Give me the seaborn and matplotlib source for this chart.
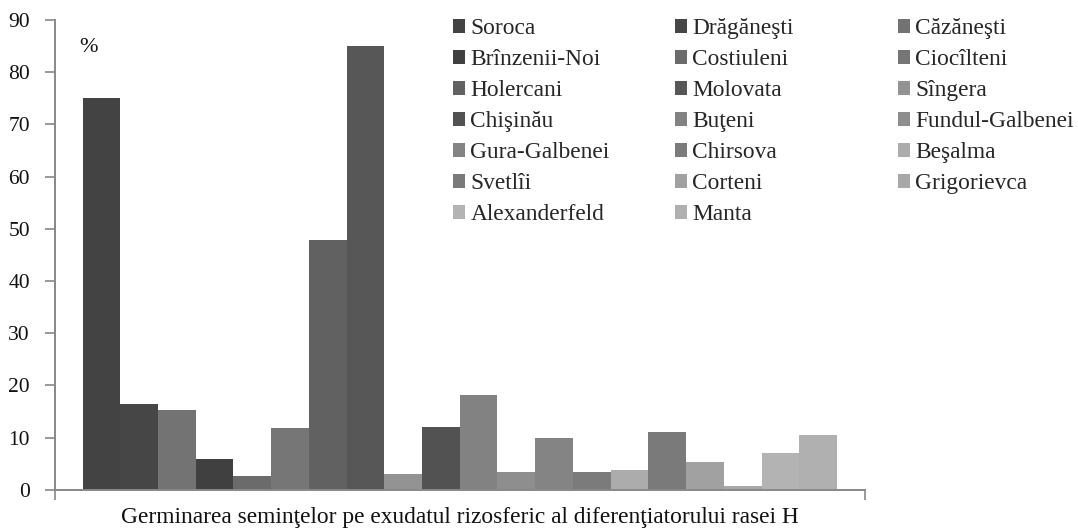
"""
plot.py
Germinarea semintelor pe exudatul rizosferic - bar chart recreated with seaborn.
"""

import pandas as pd
import seaborn as sns
import matplotlib.pyplot as plt

# Data
sites = [
    "Soroca", "Drăgăneşti", "Căzăneşti", "Brînzenii-Noi", "Costiuleni",
    "Ciocîlteni", "Holercani", "Molovata", "Sîngera", "Chişinău",
    "Buţeni", "Fundul-Galbenei", "Gura-Galbenei", "Chirsova", "Beşalma",
    "Svetlîi", "Corteni", "Grigorievca", "Alexanderfeld", "Manta",
]
values = [75.0, 16.4, 15.3, 6.0, 2.7, 11.9, 47.8, 85.0, 3.1, 12.0,
          18.2, 3.5, 10.0, 3.4, 3.8, 11.0, 5.4, 0.8, 7.0, 10.6]
colors = ["#434343", "#464646", "#737373", "#404040", "#6b6b6b",
          "#767676", "#616161", "#575757", "#939393", "#525252",
          "#828282", "#8e8e8e", "#848484", "#7b7b7b", "#acacac",
          "#7a7a7a", "#a1a1a1", "#a8a8a8", "#b3b3b3", "#b0b0b0"]
group = "Germinarea seminţelor pe exudatul rizosferic al diferenţiatorului rasei H"
y_ticks = [0, 10, 20, 30, 40, 50, 60, 70, 80, 90]


def main():
    sns.set_style("white")
    plt.rcParams["font.family"] = ["Liberation Serif", "DejaVu Serif"]

    df = pd.DataFrame({"group": [group] * len(sites), "site": sites, "value": values})

    fig = plt.figure(figsize=(10.78, 5.29), dpi=100)
    ax = fig.add_axes([0.051, 0.074, 0.751, 0.888])

    sns.barplot(data=df, x="group", y="value", hue="site", hue_order=sites,
                palette=colors, saturation=1, width=0.932, ax=ax, linewidth=0)

    ax.set_xlim(-0.5, 0.5)
    ax.set_ylim(0, 90)
    ax.set_yticks(y_ticks)
    ax.set_xticks([-0.5, 0.5])
    ax.set_xticklabels(["", ""])
    ax.tick_params(axis="y", labelsize=15.5, length=7, width=1.2, color="#888888",
                   left=True, pad=11, labelcolor="#111111")
    ax.tick_params(axis="x", length=7, width=1.2, color="#888888", bottom=True)
    ax.set_ylabel("")
    ax.set_xlabel(group, fontsize=16.8, labelpad=2, color="#111111")

    for side in ["top", "right"]:
        ax.spines[side].set_visible(False)
    for side in ["left", "bottom"]:
        ax.spines[side].set_color("#888888")
        ax.spines[side].set_linewidth(1.4)

    ax.text(89 / 1078, 1 - 47 / 529, "%", transform=fig.transFigure,
            fontsize=16, ha="center", va="center", color="#111111")

    # legend: three columns, row-major order like the original
    handles, labels = ax.get_legend_handles_labels()
    ax.get_legend().remove()
    col_x = [453, 675, 898]
    for c in range(3):
        idx = list(range(c, len(labels), 3))
        fig.legend([handles[i] for i in idx], [labels[i] for i in idx],
                   loc="upper left", bbox_to_anchor=(col_x[c] / 1078, 1 - 18 / 529),
                   frameon=False, fontsize=16.8, handlelength=0.52, handleheight=0.52,
                   handletextpad=0.22, labelspacing=0.43,
                   borderaxespad=0, borderpad=0)

    fig.savefig("out.png", dpi=100)
    plt.close(fig)


if __name__ == "__main__":
    main()
